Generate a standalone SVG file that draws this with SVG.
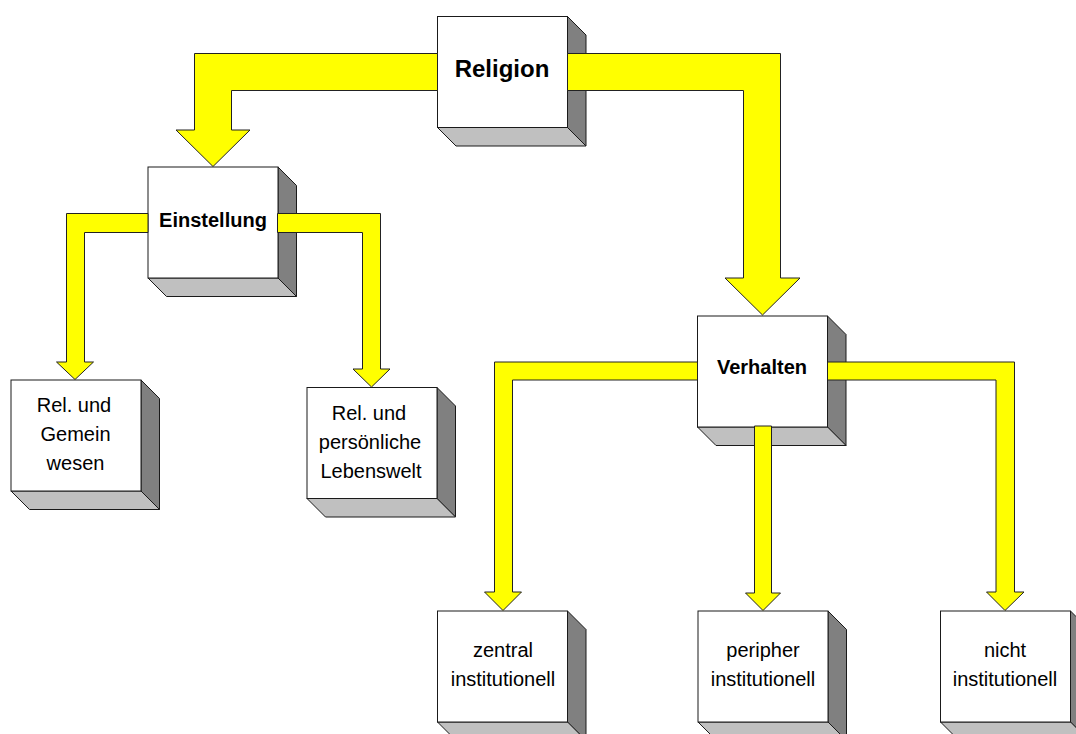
<svg xmlns="http://www.w3.org/2000/svg" width="1076" height="734" viewBox="0 0 1076 734">
<style>
.front{fill:#ffffff;stroke:#1a1a1a;stroke-width:1}
.side{fill:#808080;stroke:#1a1a1a;stroke-width:1}
.bottom{fill:#c0c0c0;stroke:#1a1a1a;stroke-width:1}
.conn{fill:#ffff00;stroke:#222222;stroke-width:1;stroke-linejoin:miter}
.lbl{font-family:"Liberation Sans",Arial,sans-serif;font-size:20px;fill:#000;text-anchor:middle}
.bold{font-weight:bold}
</style>
<defs>
<g id="box">
<polygon class="side" points="130,0 148.5,18.5 148.5,129.5 130,111"/>
<polygon class="bottom" points="0,111 130,111 148.5,129.5 18.5,129.5"/>
<rect class="front" x="0" y="0" width="130" height="111"/>
</g>
</defs>
<rect width="1076" height="734" fill="#ffffff"/>
<g id="node-religion">
<use href="#box" x="437.5" y="16.5"/>
<text class="lbl bold" x="502" y="77" style="font-size:24px">Religion</text>
</g>
<g id="node-einstellung">
<use href="#box" x="148" y="167"/>
<text class="lbl bold" x="213" y="227">Einstellung</text>
</g>
<g id="node-gemeinwesen">
<use href="#box" x="11" y="380"/>
<text class="lbl" x="74" y="412">Rel. und</text>
<text class="lbl" x="75.5" y="441">Gemein</text>
<text class="lbl" x="75.5" y="470">wesen</text>
</g>
<g id="node-lebenswelt">
<use href="#box" x="307" y="387.5"/>
<text class="lbl" x="369" y="420">Rel. und</text>
<text class="lbl" x="370" y="449">persönliche</text>
<text class="lbl" x="371" y="478">Lebenswelt</text>
</g>
<g id="node-verhalten">
<use href="#box" x="697.5" y="316"/>
<text class="lbl bold" x="762" y="374">Verhalten</text>
</g>
<g id="node-zentral">
<use href="#box" x="437.5" y="611"/>
<text class="lbl" x="503" y="657">zentral</text>
<text class="lbl" x="503" y="686">institutionell</text>
</g>
<g id="node-peripher">
<use href="#box" x="698" y="611"/>
<text class="lbl" x="763" y="657">peripher</text>
<text class="lbl" x="763" y="686">institutionell</text>
</g>
<g id="node-nicht">
<use href="#box" x="940.5" y="611"/>
<text class="lbl" x="1005" y="657">nicht</text>
<text class="lbl" x="1005" y="686">institutionell</text>
</g>
<g id="connectors">
<polygon class="conn" points="437.5,53.5 194.5,53.5 194.5,130 176,130 213,166.5 250,130 231.5,130 231.5,90.5 437.5,90.5"/>
<polygon class="conn" points="567.5,53.5 780.5,53.5 780.5,278 800,278 762.5,315 725,278 743.5,278 743.5,90.5 567.5,90.5"/>
<polygon class="conn" points="148,213.5 66.5,213.5 66.5,362 56.5,362 75,379.5 93.5,362 84.5,362 84.5,232.5 148,232.5"/>
<polygon class="conn" points="277.5,213.5 380.5,213.5 380.5,369 390,369 371.5,387 353,369 362.5,369 362.5,232.5 277.5,232.5"/>
<polygon class="conn" points="697.5,362 494.5,362 494.5,592 484.5,592 503,610.5 521.5,592 512.5,592 512.5,380 697.5,380"/>
<polygon class="conn" points="827.5,362 1014.5,362 1014.5,592 1024,592 1005,610.5 986.5,592 996,592 996,380 827.5,380"/>
<polygon class="conn" points="754.5,426 771.5,426 771.5,593 780.5,593 763,610.5 745.5,593 754.5,593"/>
</g>
</svg>
